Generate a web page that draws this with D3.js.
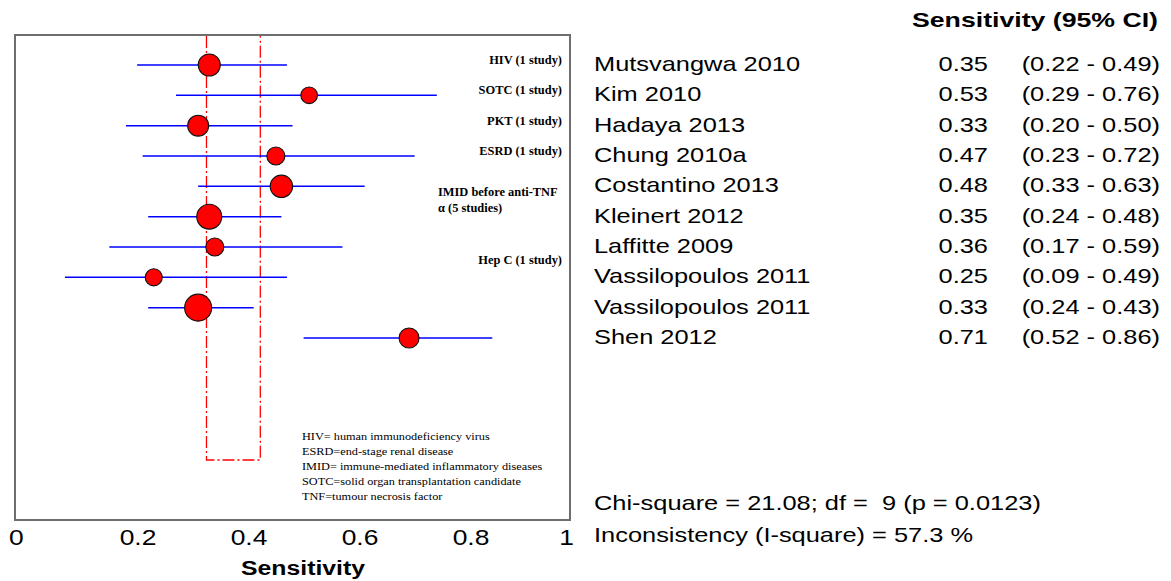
<!DOCTYPE html>
<html><head><meta charset="utf-8">
<script src="https://cdn.jsdelivr.net/npm/d3@7"></script>
<style>
body{margin:0;background:#fff;}
svg{display:block;}
text{white-space:pre;}
</style></head>
<body>
<svg id="c" width="1171" height="581"></svg>
<script>
const studies = ["Mutsvangwa 2010","Kim 2010","Hadaya 2013","Chung 2010a","Costantino 2013","Kleinert 2012","Laffitte 2009","Vassilopoulos 2011","Vassilopoulos 2011","Shen 2012"];
const sens  = [0.35,0.53,0.33,0.47,0.48,0.35,0.36,0.25,0.33,0.71];
const lower = [0.22,0.29,0.20,0.23,0.33,0.24,0.17,0.09,0.24,0.52];
const upper = [0.49,0.76,0.50,0.72,0.63,0.48,0.59,0.49,0.43,0.86];
const weights = [11.0,6.3,10.0,7.4,11.4,14.2,7.4,6.6,16.6,9.1];
const pooledCI = [0.345,0.442];
const xTicks = [0,0.2,0.4,0.6,0.8,1];
const xTickLabels = ["0","0.2","0.4","0.6","0.8","1"];
const groupLabels = [
  {row:0, lines:["HIV (1 study)"]},
  {row:1, lines:["SOTC (1 study)"]},
  {row:2, lines:["PKT (1 study)"]},
  {row:3, lines:["ESRD (1 study)"]},
  {row:4.35, lines:["IMID before anti-TNF","α (5 studies)"], left:true},
  {row:6.6, lines:["Hep C (1 study)"]}
];
const legendLines = ["HIV= human immunodeficiency virus","ESRD=end-stage renal disease","IMID= immune-mediated inflammatory diseases","SOTC=solid organ transplantation candidate","TNF=tumour necrosis factor"];
const headerText = "Sensitivity (95% CI)";
const chiText = "Chi-square = 21.08; df =  9 (p = 0.0123)";
const iText = "Inconsistency (I-square) = 57.3 %";
const xTitle = "Sensitivity";

const svg = d3.select("#c");
const box = {l:15, t:35, r:570, b:520};
const x = d3.scaleLinear().domain([0,1]).range([box.l, box.r]);
const y = d3.scaleLinear().domain([0, studies.length-1]).range([65, 338]);
const rScale = d3.scaleSqrt().domain([0, d3.max(weights)]).range([0, 13.5]);
const SX = 1.21;
const sans = "'Liberation Sans', Arial, sans-serif";
const serif = "'Liberation Serif', 'Times New Roman', serif";

function stext(g, str, px, py, opts){
  return g.append("text")
    .attr("transform", `translate(${px},${py}) scale(${opts.sx||1},1)`)
    .attr("font-family", opts.family||sans)
    .attr("font-size", opts.size||21)
    .attr("font-weight", opts.weight||"normal")
    .attr("text-anchor", opts.anchor||"start")
    .attr("xml:space","preserve")
    .attr("fill", "#000")
    .text(str);
}

// plot frame
svg.append("rect").attr("x",box.l).attr("y",box.t).attr("width",box.r-box.l).attr("height",box.b-box.t)
  .attr("fill","none").attr("stroke","#6e6e6e").attr("stroke-width",2);

// pooled CI bracket
const bracketBottom = 460;
svg.append("path")
  .attr("d", `M${x(pooledCI[0])},${box.t+1} V${bracketBottom} H${x(pooledCI[1])} V${box.t+1}`)
  .attr("fill","none").attr("stroke","#ff0000").attr("stroke-width",1.3)
  .attr("stroke-dasharray","12,3,2,3");

// CI lines
const rows = d3.range(studies.length);
svg.append("g").selectAll("line").data(rows).join("line")
  .attr("x1", i=>x(lower[i])).attr("x2", i=>x(upper[i]))
  .attr("y1", i=>y(i)).attr("y2", i=>y(i))
  .attr("stroke","#0000ff").attr("stroke-width",1.5);

// points
svg.append("g").selectAll("circle").data(rows).join("circle")
  .attr("cx", i=>x(sens[i])).attr("cy", i=>y(i)).attr("r", i=>rScale(weights[i]))
  .attr("fill","#ff0000").attr("stroke","#111").attr("stroke-width",1.1);

// group labels
const gl = svg.append("g");
groupLabels.forEach(d=>{
  d.lines.forEach((ln,k)=>{
    const py = y(d.row) - 1 + k*16;
    if(d.left) stext(gl, ln, 438, py, {family:serif,size:11.5,weight:"bold",sx:1.08});
    else stext(gl, ln, 562, py, {family:serif,size:11.5,weight:"bold",sx:1.08,anchor:"end"});
  });
});

// legend text
const lg = svg.append("g");
legendLines.forEach((ln,k)=>{
  stext(lg, ln, 302, 440 + k*15, {family:serif,size:10.5,sx:1.17});
});

// x axis tick labels
const ax = svg.append("g");
xTicks.forEach((v,k)=>{
  let px = x(v) + 12, anchor = "middle";
  if(k===0){px = x(v) - 6; anchor="start";}
  if(k===xTicks.length-1){px = x(v) + 4; anchor="end";}
  stext(ax, xTickLabels[k], px, 545, {size:22, sx:1.2, anchor});
});
stext(ax, xTitle, 303, 575, {size:21, weight:"bold", sx:1.18, anchor:"middle"});

// right table
const tb = svg.append("g");
stext(tb, headerText, 1158, 27, {size:21, weight:"bold", sx:1.27, anchor:"end"});
rows.forEach(i=>{
  const py = y(i) + 6;
  stext(tb, studies[i], 594, py, {size:21, sx:SX});
  stext(tb, d3.format(".2f")(sens[i]), 988, py, {size:21, sx:SX, anchor:"end"});
  stext(tb, `(${d3.format(".2f")(lower[i])} - ${d3.format(".2f")(upper[i])})`, 1160, py, {size:21, sx:SX, anchor:"end"});
});
stext(tb, chiText, 594, 510, {size:21, sx:SX});
stext(tb, iText, 594, 542, {size:21, sx:SX});
</script>
</body></html>
